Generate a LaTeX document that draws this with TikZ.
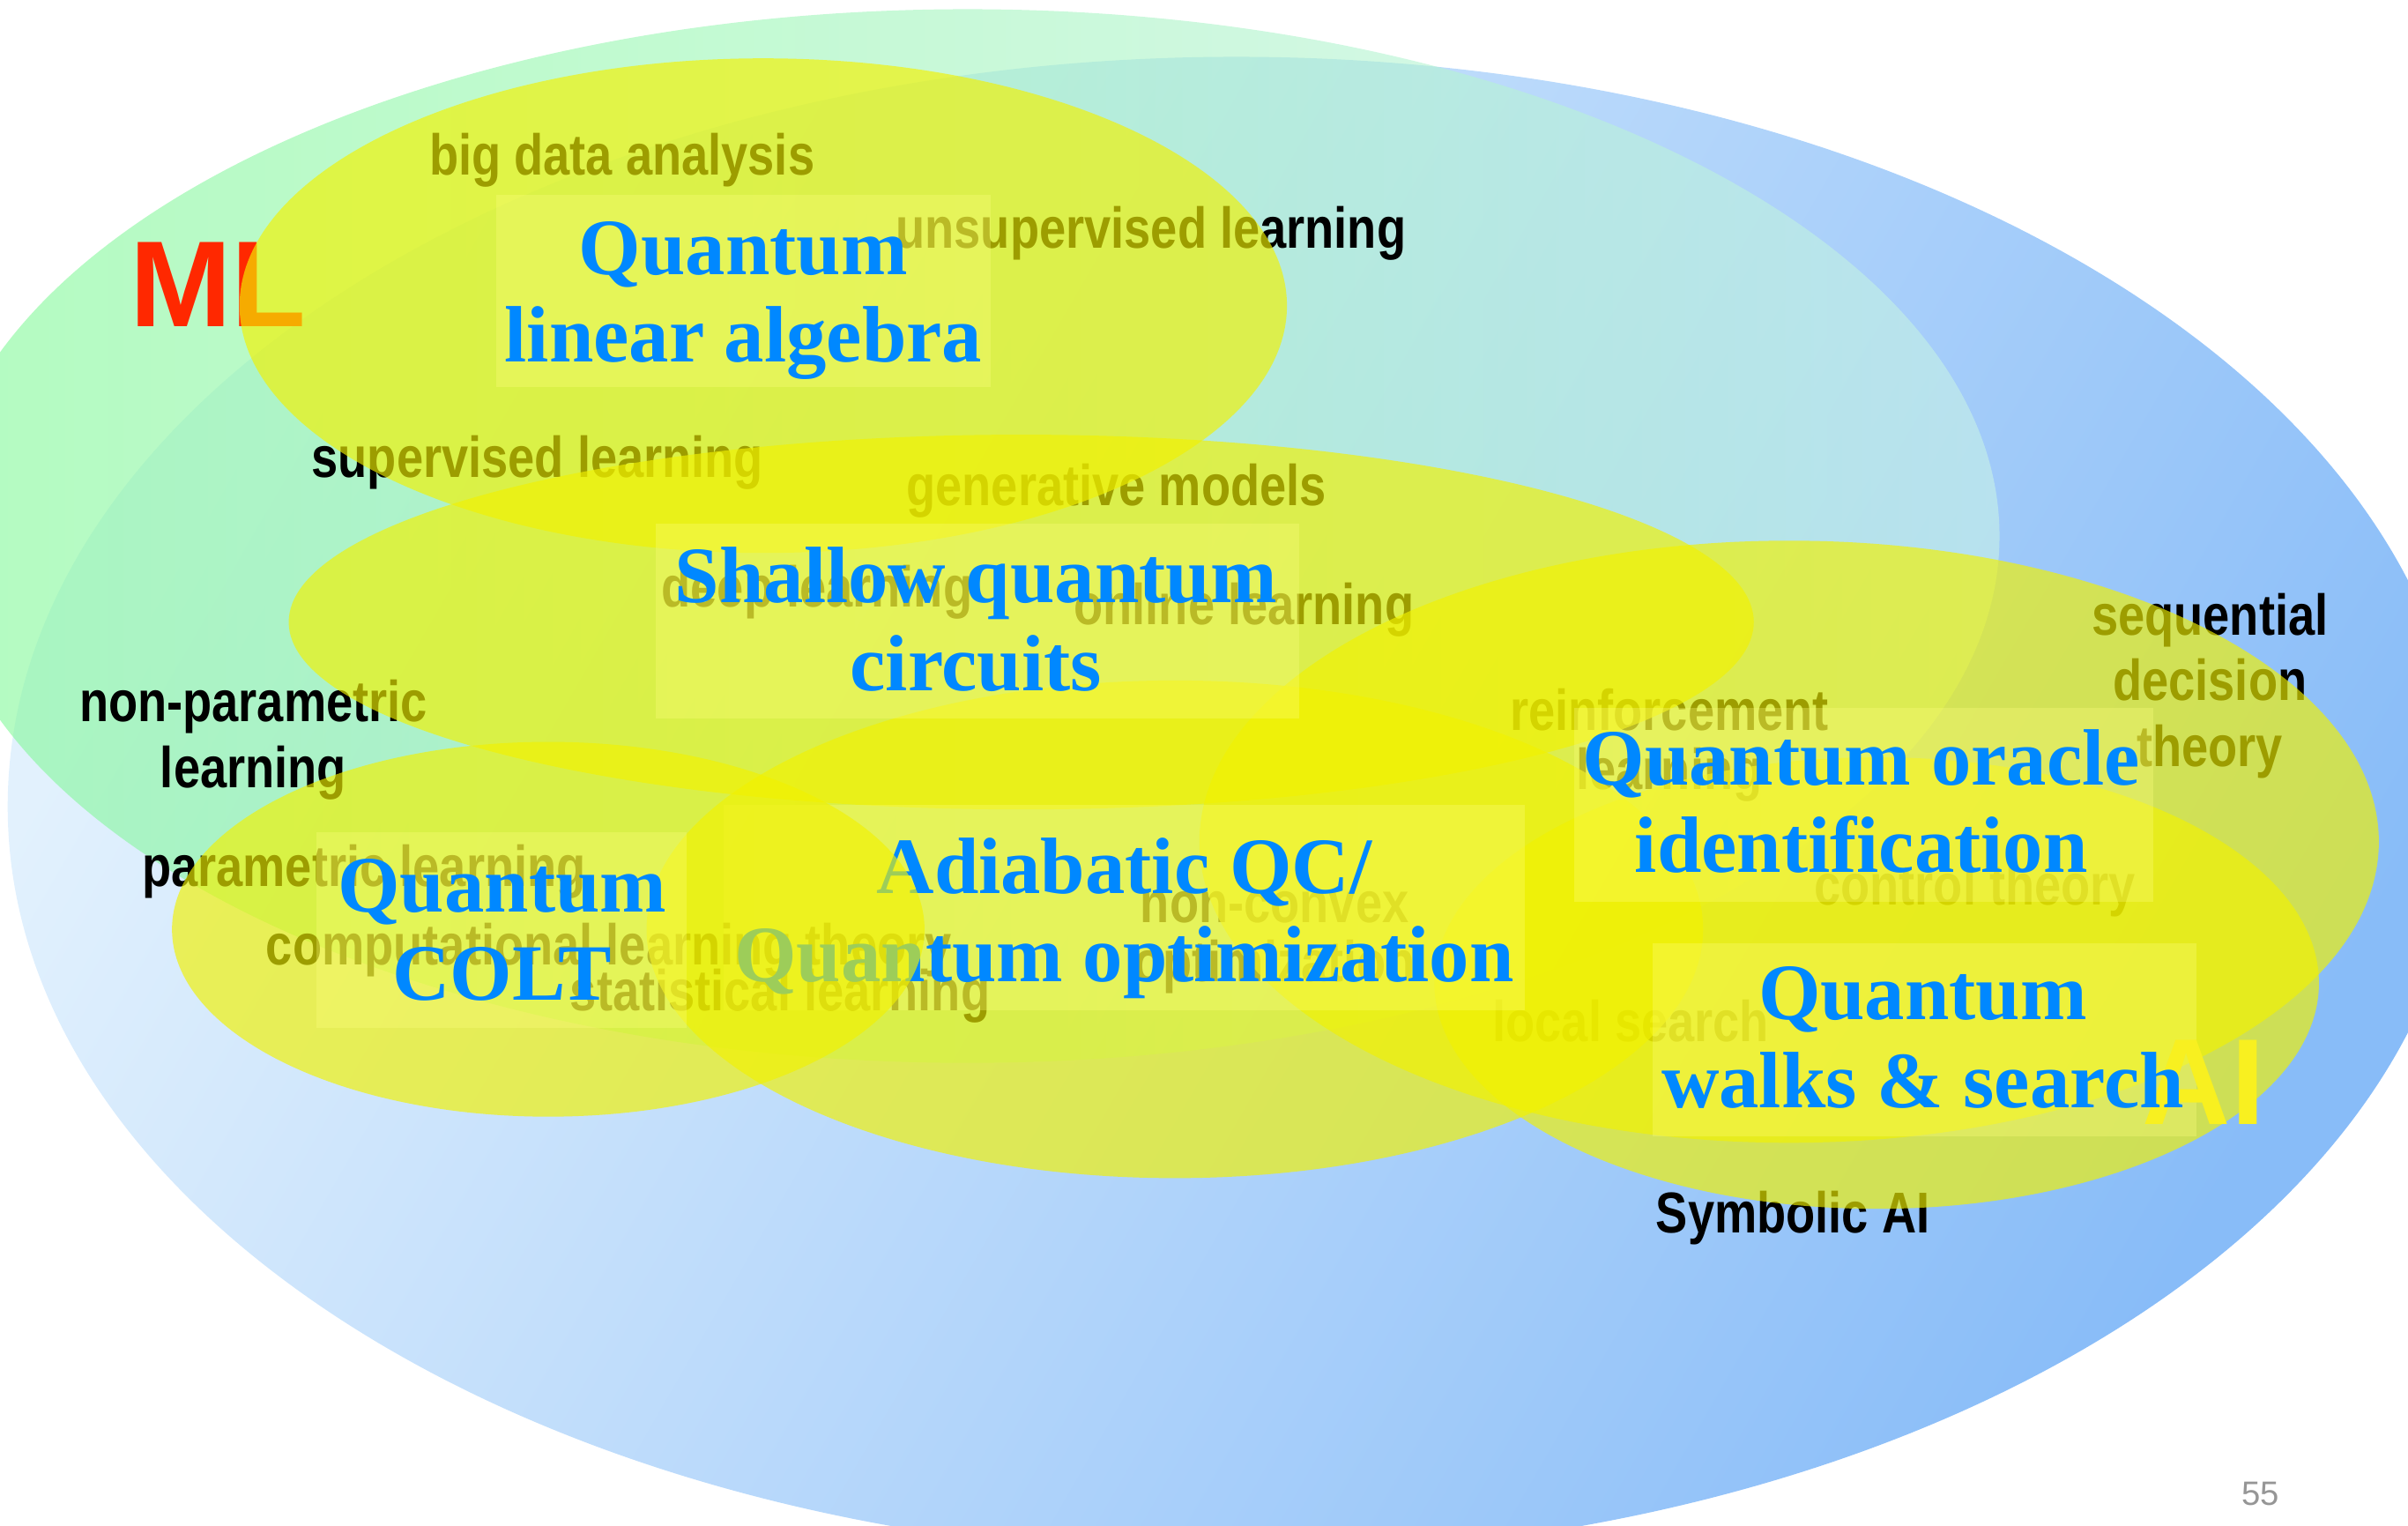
\documentclass[tikz,border=0pt]{standalone}
\usepackage{fontspec}
\newfontfamily\lblfont{Liberation Sans}[FakeStretch=0.83]
\newfontfamily\plainsans{Liberation Sans}
\newfontfamily\titlefont{Liberation Serif}

\definecolor{titleblue}{RGB}{0,136,255}
\definecolor{mlred}{RGB}{255,40,0}
\definecolor{aiyellow}{RGB}{248,240,32}
\definecolor{ovalyellow}{RGB}{242,242,0}
\definecolor{boxtint}{RGB}{255,255,128}
\definecolor{blueA}{RGB}{226,241,253}
\definecolor{blueB}{RGB}{136,188,248}
\definecolor{greenA}{RGB}{128,248,150}
\definecolor{greenB}{RGB}{200,242,232}
\definecolor{pagegray}{RGB}{150,150,150}

\begin{document}
\begin{tikzpicture}[x=0.017423cm, y=-0.017423cm,
  oval/.style={fill=ovalyellow, fill opacity=0.65},
  tbox/.style={fill=boxtint, fill opacity=0.3},
  title/.style={font=\titlefont\bfseries\fontsize{25.8}{28.3}\selectfont,
    text=titleblue, align=center, anchor=base, inner sep=0pt},
  lbl/.style={font=\lblfont\bfseries\fontsize{18.6}{21.2}\selectfont,
    text=black, align=center, anchor=base, inner sep=0pt},
  lbltight/.style={lbl, font=\lblfont\bfseries\fontsize{18.6}{19}\selectfont},
  bigword/.style={font=\plainsans\bfseries\fontsize{39.5}{42}\selectfont,
    anchor=base, inner sep=0pt}]

\useasboundingbox (0,0) rectangle (1568,993);
\begin{scope}
\clip (0,0) rectangle (1568,993);

% the two large fields: AI (blue) and ML (green)
\shade[top color=blueA, bottom color=blueB, shading angle=60]
  (805,525) ellipse [x radius=800, y radius=488];
\shade[left color=greenA, right color=greenB, opacity=0.6]
  (630,349) ellipse [x radius=672, y radius=343];

% field keywords (tinted by the quantum ovals drawn above them);
% multi-line nodes are placed by the baseline of their last line
\node[lbl] (bigdata) at (405,113.7) {big data analysis};
\node[lbl] (unsup)   at (749.5,161.5) {unsupervised learning};
\node[lbl] (sup)     at (350,311) {supervised learning};
\node[lbl] (gen)     at (727,329) {generative models};
\node[lbl] (deep)    at (532,395) {deep learning};
\node[lbl] (online)  at (810,406.5) {online learning};
\node[lbl] (nonpar)  at (165,512.6) {non-parametric\\learning};
\node[lbl] (par)     at (237,577) {parametric learning};
\node[lbl] (comp)    at (396.5,628) {computational learning theory};
\node[lbl] (stat)    at (508,658) {statistical learning};
\node[lbltight] (nonconv) at (830,639) {non-convex\\optimization};
\node[lbltight] (reinf)   at (1087,514) {reinforcement\\learning};
\node[lbl] (seqdec)  at (1439,499) {sequential\\decision\\theory};
\node[lbl] (control) at (1286,589) {control theory};
\node[lbl] (local)   at (1062,678) {local search};
\node[lbl] (symb)    at (1167.5,802.5) {Symbolic AI};
\node[bigword, text=mlred] (ml) at (142,212.5) {ML};

% quantum approaches
\fill[oval] (497,199)  ellipse [x radius=341, y radius=161];
\fill[oval] (665,405)  ellipse [x radius=477, y radius=122];
\fill[oval] (765,605)  ellipse [x radius=344, y radius=162];
\fill[oval] (1165,548) ellipse [x radius=384, y radius=196];
\fill[oval] (1222,640) ellipse [x radius=288, y radius=147];

\fill[tbox] (323,127)  rectangle (645,252);
\fill[tbox] (427,341)  rectangle (846,468);
\fill[tbox] (471,524)  rectangle (993,658);
\fill[tbox] (1025,461) rectangle (1402,587);
\fill[tbox] (1076,614) rectangle (1430,740);

\node[bigword, text=aiyellow] (ai) at (1435,731.8) {AI};

\node[title] (tla) at (484,235.6) {Quantum\\linear algebra};
\node[title] (tsh) at (635.5,449.5) {Shallow quantum\\circuits};
\node[title] (tad) at (732,639)   {Adiabatic QC/\\Quantum optimization};
\node[title] (tor) at (1212,568)  {Quantum oracle\\identification};
\node[title] (twk) at (1252,721)  {Quantum\\walks \& search};

% COLT oval lies on top of the adiabatic title
\fill[oval] (357,605) ellipse [x radius=245, y radius=122];
\fill[tbox] (206,542) rectangle (447,669);
\node[title] (tcolt) at (327,651) {Quantum\\COLT};
\end{scope}

\node[font=\plainsans\fontsize{10.9}{12}\selectfont, text=pagegray,
  anchor=base, inner sep=0pt] (pagenum) at (1472,980) {55};
\end{tikzpicture}
\end{document}
